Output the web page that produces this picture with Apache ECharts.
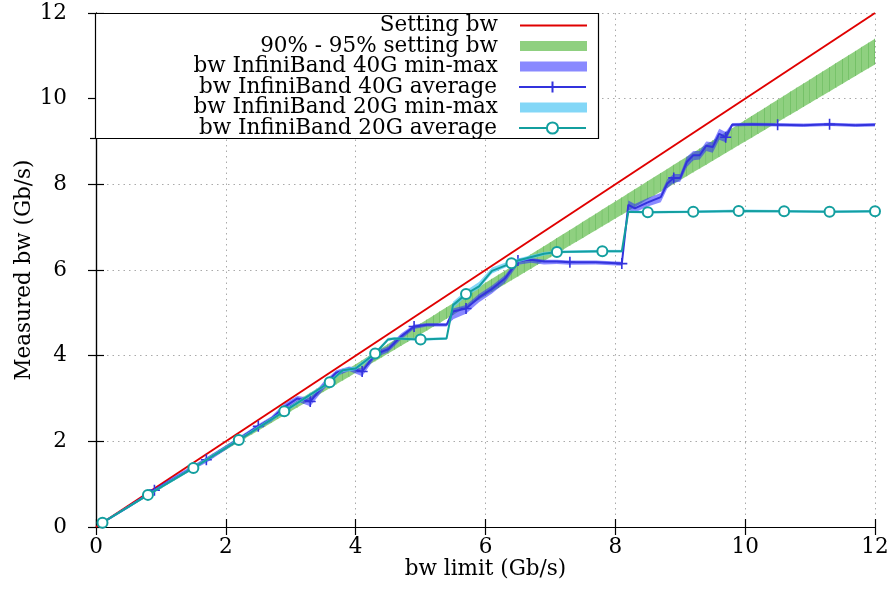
<!DOCTYPE html>
<html><head><meta charset="utf-8">
<script src="https://cdn.jsdelivr.net/npm/echarts@6/dist/echarts.min.js"></script>
<style>html,body{margin:0;padding:0;background:#fff}#c{width:890px;height:594px}</style>
</head><body><div id="c"></div>
<script>
// ---- data ----
const xTicks = [0, 2, 4, 6, 8, 10, 12];
const yTicks = [0, 2, 4, 6, 8, 10, 12];
const settingX = [0, 12];
const settingY = [0, 12];
const bandRatioLow = 0.90;
const bandRatioHigh = 0.95;

const ib40X   = [0.1, 0.5, 0.9, 1.3, 1.7, 2.1, 2.5, 2.7, 2.9, 3.1, 3.3, 3.5, 3.7, 3.9, 4.1, 4.3, 4.5, 4.7, 4.9, 5.1, 5.4, 5.5, 5.7, 5.9, 6.1, 6.3, 6.5, 6.7, 6.9, 7.1, 7.3, 7.7, 8.1, 8.2, 8.3, 8.5, 8.7, 8.8, 8.9, 9.0, 9.1, 9.2, 9.3, 9.4, 9.5, 9.6, 9.7, 9.8, 10.1, 10.5, 10.9, 11.3, 11.7, 12.0];
const ib40Avg = [0.10, 0.47, 0.86, 1.22, 1.57, 1.95, 2.35, 2.52, 2.80, 3.00, 2.93, 3.30, 3.60, 3.70, 3.63, 4.03, 4.15, 4.45, 4.68, 4.72, 4.72, 5.03, 5.10, 5.36, 5.56, 5.80, 6.22, 6.24, 6.20, 6.20, 6.18, 6.18, 6.15, 7.52, 7.44, 7.58, 7.70, 8.02, 8.15, 8.15, 8.52, 8.68, 8.68, 8.90, 8.87, 9.18, 9.10, 9.39, 9.40, 9.39, 9.38, 9.40, 9.38, 9.39];
const ib40Min = [0.08, 0.45, 0.82, 1.18, 1.50, 1.90, 2.28, 2.46, 2.72, 2.93, 2.82, 3.20, 3.52, 3.64, 3.52, 3.95, 4.08, 4.38, 4.62, 4.68, 4.68, 4.85, 4.98, 5.25, 5.45, 5.70, 6.12, 6.17, 6.13, 6.14, 6.12, 6.13, 6.10, 7.40, 7.34, 7.48, 7.58, 7.90, 8.04, 8.06, 8.40, 8.56, 8.58, 8.78, 8.74, 9.04, 8.98, 9.35, 9.36, 9.35, 9.34, 9.36, 9.34, 9.35];
const ib40Max = [0.12, 0.50, 0.90, 1.27, 1.62, 2.00, 2.40, 2.58, 2.88, 3.06, 3.02, 3.38, 3.66, 3.75, 3.70, 4.10, 4.22, 4.52, 4.73, 4.76, 4.76, 5.10, 5.18, 5.44, 5.64, 5.88, 6.28, 6.28, 6.24, 6.24, 6.22, 6.22, 6.19, 7.62, 7.54, 7.68, 7.80, 8.12, 8.24, 8.24, 8.64, 8.78, 8.78, 9.00, 8.98, 9.30, 9.22, 9.43, 9.44, 9.43, 9.42, 9.44, 9.42, 9.43];
const ib40MarkerX = [0.1, 0.9, 1.7, 2.5, 3.3, 4.1, 4.9, 5.7, 6.5, 7.3, 8.1, 8.9, 9.7, 10.5, 11.3];

const ib20X   = [0.1, 0.8, 1.5, 2.2, 2.9, 3.6, 3.8, 4.0, 4.3, 4.5, 4.6, 5.0, 5.4, 5.5, 5.7, 5.9, 6.1, 6.4, 6.5, 6.9, 7.1, 7.8, 8.1, 8.2, 8.5, 9.2, 9.9, 10.6, 11.3, 12.0];
const ib20Avg = [0.10, 0.75, 1.38, 2.03, 2.70, 3.38, 3.66, 3.70, 4.05, 4.38, 4.40, 4.38, 4.40, 5.18, 5.44, 5.62, 5.98, 6.16, 6.22, 6.38, 6.42, 6.44, 6.44, 7.36, 7.35, 7.36, 7.38, 7.37, 7.36, 7.37];
const ib20Min = [0.08, 0.72, 1.35, 2.00, 2.66, 3.34, 3.62, 3.66, 4.00, 4.34, 4.37, 4.35, 4.37, 5.10, 5.38, 5.56, 5.92, 6.12, 6.18, 6.34, 6.39, 6.41, 6.41, 7.33, 7.32, 7.33, 7.35, 7.34, 7.33, 7.34];
const ib20Max = [0.12, 0.78, 1.42, 2.07, 2.74, 3.42, 3.70, 3.75, 4.10, 4.42, 4.43, 4.41, 4.43, 5.26, 5.52, 5.72, 6.06, 6.22, 6.27, 6.42, 6.45, 6.47, 6.47, 7.39, 7.38, 7.39, 7.41, 7.40, 7.39, 7.40];
const ib20MarkerX = [0.1, 0.8, 1.5, 2.2, 2.9, 3.6, 4.3, 5.0, 5.7, 6.4, 7.1, 7.8, 8.5, 9.2, 9.9, 10.6, 11.3, 12.0];

const names = ['Setting bw', '90% - 95% setting bw', 'bw InfiniBand 40G min-max',
  'bw InfiniBand 40G average', 'bw InfiniBand 20G min-max', 'bw InfiniBand 20G average'];

// ---- build ----
const FONT = 'DejaVu Serif';
const FS = 21.5;
const C = {red:'#e00000', green:'#8fd080', greenLine:'#5db451', blueBand:'rgba(40,40,255,0.55)', blue:'#3333dd', cyanBand:'rgba(100,205,245,0.8)', teal:'#139f9f'};

// stripe grid for the percentage band (0.1 Gb/s steps across setting range)
const bandRows = [];
for (let i = 0; i <= Math.round((settingX[1] - settingX[0]) * 10); i++) {
  const x = settingX[0] + i / 10;
  bandRows.push([x, bandRatioLow * x, bandRatioHigh * x]);
}
const rows40 = ib40X.map((x, i) => [x, ib40Min[i], ib40Max[i]]);
const rows20 = ib20X.map((x, i) => [x, ib20Min[i], ib20Max[i]]);

function bandSeries(name, rows, fill, stroke, z) {
  return {
    type: 'custom', name, data: rows, encode: {x: 0, y: [1, 2]}, z, clip: true, silent: true,
    itemStyle: {color: fill},
    renderItem(params, api) {
      const i = params.dataIndex;
      if (i >= rows.length - 1) return null;
      const a = rows[i], b = rows[i + 1];
      const p1 = api.coord([a[0], a[1]]), p2 = api.coord([b[0], b[1]]);
      const p3 = api.coord([b[0], b[2]]), p4 = api.coord([a[0], a[2]]);
      const children = [{type: 'polygon', shape: {points: [p1, p2, p3, p4]}, style: {fill: fill, stroke: null}}];
      if (stroke) children.push({type: 'line', shape: {x1: p2[0], y1: p2[1], x2: p3[0], y2: p3[1]}, style: {stroke: stroke, lineWidth: 1}});
      return {type: 'group', children};
    }
  };
}
function near(a, b) { return Math.abs(a - b) < 1e-6; }
function markedData(xs, ys, marks) {
  return xs.map((x, i) => marks.some(m => near(m, x)) ? {value: [x, ys[i]]} : {value: [x, ys[i]], symbol: 'none'});
}
const plusPath = 'path://M0,5L10,5M5,0L5,10';

const series = [
  {type: 'line', name: names[0], data: settingX.map((x, i) => [x, settingY[i]]), symbol: 'none', z: 2,
   lineStyle: {color: C.red, width: 2}, itemStyle: {color: C.red}},
  bandSeries(names[1], bandRows, C.green, C.greenLine, 3),
  bandSeries(names[2], rows40, C.blueBand, null, 4),
  {type: 'line', name: names[3], data: markedData(ib40X, ib40Avg, ib40MarkerX), z: 5,
   symbol: plusPath, symbolSize: 11, showSymbol: true,
   lineStyle: {color: C.blue, width: 2}, itemStyle: {color: C.blue, borderColor: C.blue, borderWidth: 1.6}},
  bandSeries(names[4], rows20, C.cyanBand, null, 6),
  {type: 'line', name: names[5], data: markedData(ib20X, ib20Avg, ib20MarkerX), z: 7,
   symbol: 'emptyCircle', symbolSize: 10, showSymbol: true,
   lineStyle: {color: C.teal, width: 2}, itemStyle: {color: C.teal, borderColor: C.teal, borderWidth: 1.8}}
];

const rowTop = 25.5, rowStep = 20.5, LH = 22;
const legends = names.map((n, i) => {
  const isRect = (i === 1 || i === 2 || i === 4);
  const h = i === 0 ? 2 : (isRect ? 10 : 14);
  return {
    data: [(isRect || i === 0) ? {name: n, icon: 'rect'} : {name: n}],
    right: 890 - 587, top: rowTop + i * rowStep - LH / 2,
    orient: 'horizontal', align: 'right', itemWidth: 67, itemHeight: h, padding: 0,
    selectedMode: false, z: 10,
    textStyle: {fontFamily: FONT, fontSize: FS, color: '#000', lineHeight: LH, height: LH, padding: [0, 17, 0, 0]}
  };
});

const axisCommon = {
  type: 'value', min: 0, max: 12, interval: 2,
  axisLine: {show: true, lineStyle: {color: '#000', width: 1.2}},
  axisTick: {show: true, inside: true, length: 8, lineStyle: {color: '#000', width: 1.2}},
};
const labelStyle = {fontFamily: FONT, fontSize: FS, color: '#000'};

const option = {
  animation: false,
  backgroundColor: '#fff',
  grid: {left: 96, right: 15, top: 13, bottom: 67, containLabel: false, outerBoundsMode: 'none'},
  legend: legends,
  xAxis: [
    Object.assign({}, axisCommon, {position: 'bottom',
      axisLabel: Object.assign({margin: 9, formatter: v => xTicks.includes(v) ? String(v) : ''}, labelStyle),
      splitLine: {show: true, lineStyle: {color: '#aaaaaa', type: [1.5, 4], width: 1}},
      name: 'bw limit (Gb/s)', nameLocation: 'middle', nameGap: 31, nameMoveOverlap: false, nameTextStyle: labelStyle}),
    Object.assign({}, axisCommon, {position: 'top', axisLabel: {show: false}, splitLine: {show: false}})
  ],
  yAxis: [
    Object.assign({}, axisCommon, {position: 'left',
      axisLabel: Object.assign({margin: 29, formatter: v => yTicks.includes(v) ? String(v) : ''}, labelStyle),
      splitLine: {show: true, lineStyle: {color: '#aaaaaa', type: [1.5, 4], width: 1}},
      name: 'Measured bw (Gb/s)', nameLocation: 'middle', nameGap: 61, nameMoveOverlap: false, nameRotate: 90, nameTextStyle: labelStyle}),
    Object.assign({}, axisCommon, {position: 'right', axisLabel: {show: false}, splitLine: {show: false}})
  ],
  graphic: [
    {type: 'rect', z: 8, shape: {x: 95.5, y: 13.5, width: 503, height: 125}, style: {fill: '#fff', stroke: '#000', lineWidth: 1.2}},
    {type: 'line', z: 8, shape: {x1: 90, y1: 138.5, x2: 96, y2: 138.5}, style: {stroke: '#000', lineWidth: 1.2}}
  ],
  series
};
const chart = echarts.init(document.getElementById('c'), null, {renderer: 'canvas'});
chart.setOption(option);
</script></body></html>
